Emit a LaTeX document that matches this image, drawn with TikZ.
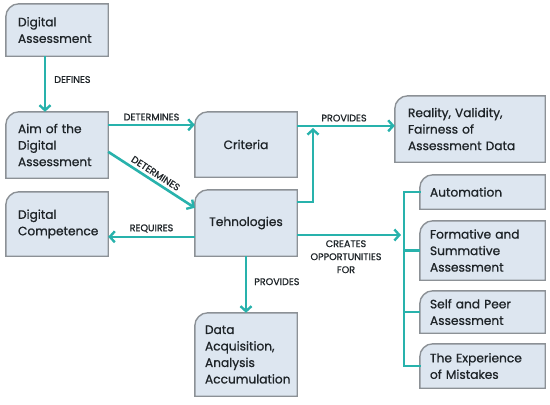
\documentclass[tikz,border=0pt]{standalone}
\usepackage{fontspec}
\setmainfont{Poppins}[FakeBold=0.9]
\usetikzlibrary{arrows.meta,backgrounds,calc}
\definecolor{teal1}{RGB}{40,178,172}
\definecolor{boxfill}{RGB}{221,230,240}
\definecolor{boxedge}{RGB}{140,145,150}
\definecolor{ink}{RGB}{30,36,40}
\tikzset{
  boxnode/.style={inner xsep=12pt, inner ysep=0pt, font=\fontsize{12.2}{16.5}\selectfont, text=ink, anchor=center},
  boxline/.style={draw=boxedge, fill=boxfill, line width=1.4pt},
  arr/.style={draw=teal1, line width=2.6pt, -{Straight Barb[length=5pt,width=11pt,line width=2.4pt]}},
  conn/.style={draw=teal1, line width=2.6pt},
  lbl/.style={font=\fontsize{9.6}{13}\selectfont, text=ink, inner sep=2pt}
}
\newcommand\mkbox[8]{% name,x1,y1,x2,y2,align,pad,text
  \pgfmathsetmacro\bw{#4-#2}\pgfmathsetmacro\bh{#5-#3}
  \pgfmathsetmacro\tw{#4-#2-2*#7}
  \pgfmathsetmacro\cx{(#2+#4)/2}\pgfmathsetmacro\cy{-(#3+#5)/2}
  \node[boxnode, inner xsep=#7pt, text width=\tw pt, align=#6, minimum width=\bw pt, minimum height=\bh pt] (#1) at (\cx pt,\cy pt) {#8};
  \begin{scope}[on background layer]
    \draw[boxline] (#1.south west) -- ([yshift=-13pt]#1.north west) arc[start angle=180,end angle=90,radius=13pt] -- (#1.north east) -- (#1.south east) -- cycle;
  \end{scope}
}
\begin{document}
\begin{tikzpicture}[x=1pt,y=1pt]
\useasboundingbox (0,0) rectangle (550,-405);
\mkbox{da}{6}{4}{108}{56}{left}{12}{Digital\\Assessment}
\mkbox{aim}{6}{112}{108}{178}{left}{12}{Aim of the\\Digital\\Assessment}
\mkbox{dc}{6}{192}{108}{256}{left}{12}{Digital\\Competence}
\mkbox{cri}{195}{112}{297}{177}{center}{6}{Criteria}
\mkbox{tech}{195}{190}{297}{256}{center}{6}{Tehnologies}
\mkbox{data}{195}{313}{297}{396}{left}{10}{Data\\Acquisition,\\Analysis\\Accumulation}
\mkbox{real}{395}{96}{545}{162}{left}{13}{Reality, Validity,\\Fairness of\\Assessment Data}
\mkbox{auto}{420}{175}{545}{209}{left}{10}{Automation}
\mkbox{form}{420}{221}{545}{280}{left}{10}{Formative and\\Summative\\Assessment}
\mkbox{self}{420}{291}{545}{333}{left}{10}{Self and Peer\\Assessment}
\mkbox{exp}{420}{344}{545}{388}{left}{10}{The Experience\\of Mistakes}

\coordinate (pj) at (313,-128);
\coordinate (brk) at (404,-235);

\draw[arr] ([xshift=-12pt]da.south) -- node[lbl, right=6pt, pos=0.42] {DEFINES} ([xshift=-12pt]aim.north);
\draw[arr] ([yshift=-13pt]aim.north east) -- node[lbl, above=1pt] {DETERMINES} ([yshift=-13pt]aim.north east -| cri.west);
\draw[arr] ([yshift=-40pt]aim.north east) -- node[lbl, sloped, above=1pt] {DETERMINES} ([yshift=-18pt]tech.north west);
\draw[arr] ([yshift=-14pt]cri.north east) -- node[lbl, above=1pt, pos=0.48] {PROVIDES} ([yshift=-14pt]cri.north east -| real.west);
\draw[arr] ([yshift=-12pt]tech.north east) -| (pj);
\draw[arr] ([yshift=-47pt]tech.north west) -- node[lbl, above=1pt] {REQUIRES} ([yshift=-47pt]tech.north west -| dc.east);
\draw[arr] (tech.south) -- node[lbl, right=5pt, pos=0.45] {PROVIDES} (data.north);
\draw[arr] (tech.east |- brk) -- node[lbl, below=2pt, align=center, pos=0.47] {CREATES\\OPPORTUNITIES\\FOR} ([xshift=-3pt]brk);
\draw[conn, line cap=rect] (auto.west) -- (auto.west -| brk) -- (exp.west -| brk) -- (exp.west);
\draw[conn] (form.west -| brk) -- (form.west);
\draw[conn] (self.west -| brk) -- (self.west);
\end{tikzpicture}
\end{document}
